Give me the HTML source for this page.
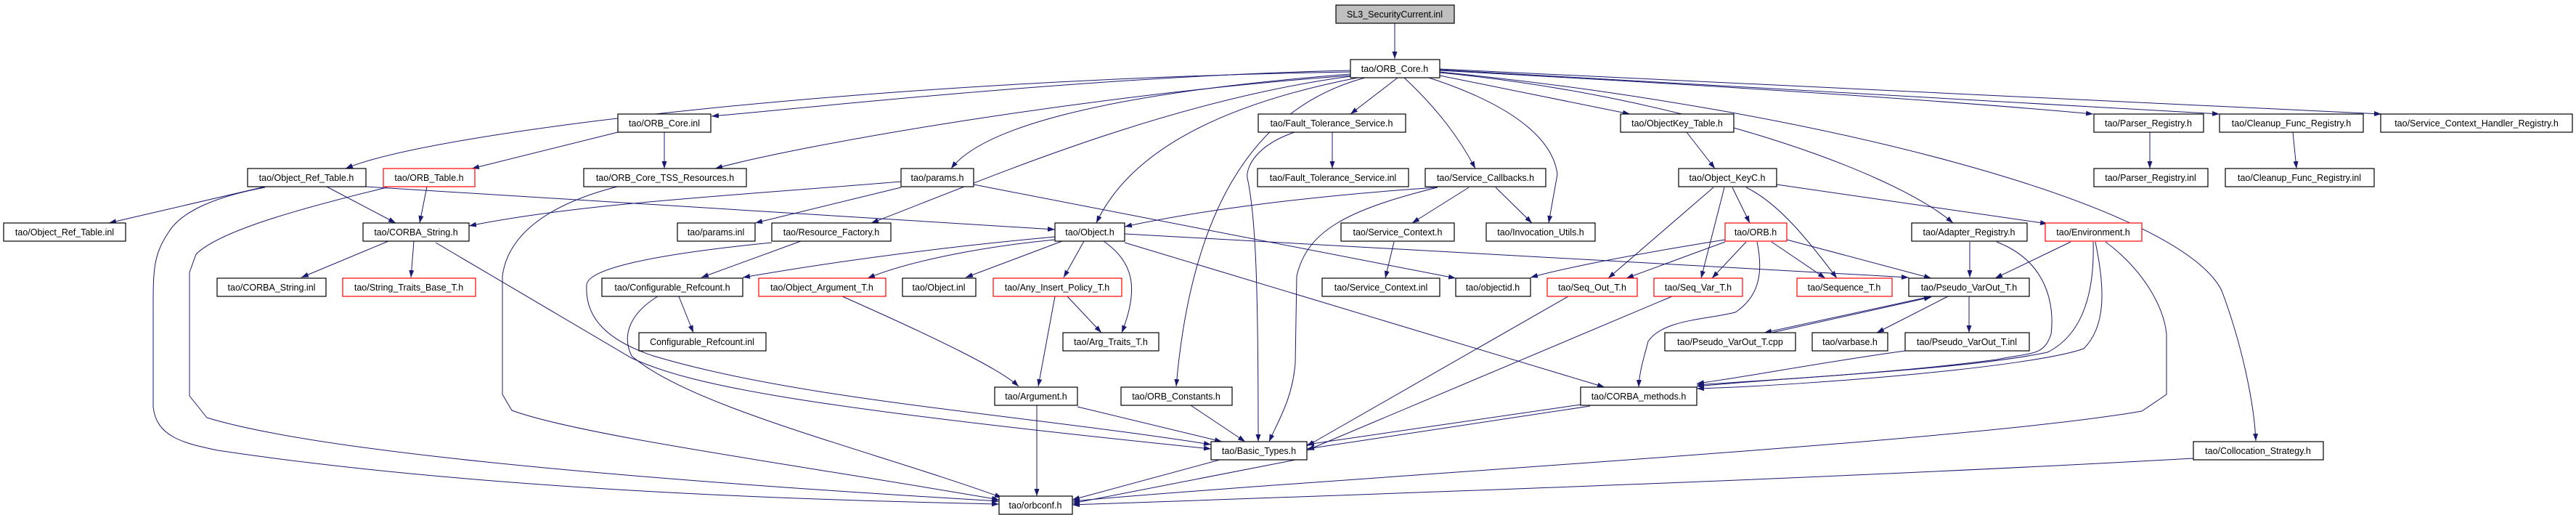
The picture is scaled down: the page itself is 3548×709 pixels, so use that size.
<!DOCTYPE html>
<html><head><meta charset="utf-8"><style>
html,body{margin:0;padding:0;background:#fff;}
svg{display:block;}
text{font-family:"Liberation Sans",sans-serif;font-size:12.5px;fill:#000;}
</style></head><body>
<svg width="3548" height="709" viewBox="0 0 3548 709" xmlns="http://www.w3.org/2000/svg">
<defs><marker id="a" markerUnits="userSpaceOnUse" markerWidth="11" markerHeight="8" refX="10" refY="3.5" orient="auto"><path d="M0,0 L10,3.5 L0,7 z" fill="#191970"/></marker></defs>
<g fill="none" stroke="#191970" stroke-width="1" marker-end="url(#a)">
<path d="M1921,32 L1921,81"/>
<path d="M1860,99 C1200,110 600,180 476,232"/>
<path d="M1860,97 C1500,105 1100,150 980,160"/>
<path d="M1860,104 C1500,130 1100,200 985,232"/>
<path d="M1860,102 C1500,130 1350,180 1310,232"/>
<path d="M1860,105 C1600,140 1350,250 1200,307"/>
<path d="M1870,107 C1700,140 1560,200 1510,307"/>
<path d="M1880,107 C1720,150 1640,300 1620,532"/>
<path d="M1925,107 L1860,157"/>
<path d="M1934,107 C1980,150 2010,190 2032,232"/>
<path d="M1968,107 C2100,150 2140,200 2145,240 L2133,307"/>
<path d="M1983,104 L2245,157"/>
<path d="M1983,100 C2300,130 2600,230 2690,307"/>
<path d="M1983,97 C2400,120 2700,140 2883,157"/>
<path d="M1983,96 L3057,157"/>
<path d="M1983,95 L3280,157"/>
<path d="M1983,99 C2500,150 3000,280 3060,400 C3090,480 3105,560 3107,607"/>
<path d="M851,182 L650,232"/>
<path d="M915,182 L915,232"/>
<path d="M365,257 L150,307"/>
<path d="M450,257 L545,307"/>
<path d="M504,257 L1453,316"/>
<path d="M365,258 C300,270 250,290 232,320 C212,350 211,370 211,420 L211,560 C215,600 250,610 300,620 C700,680 1200,690 1376,694"/>
<path d="M588,257 L578,307"/>
<path d="M533,258 C400,290 300,320 270,350 L261,375 L261,545 L285,575 C400,610 700,650 1376,690"/>
<path d="M535,332 L415,382"/>
<path d="M570,332 L566,382"/>
<path d="M600,334 L870,493 C950,530 1100,560 1668,618"/>
<path d="M850,257 C760,280 700,320 692,380 L692,543 L705,565 C800,600 1100,640 1376,688"/>
<path d="M1241,250 C1000,270 800,280 646,311"/>
<path d="M1241,258 L1040,307"/>
<path d="M1341,254 L2005,383"/>
<path d="M1103,332 L966,382"/>
<path d="M1063,334 C900,350 810,370 808,392 C805,440 840,470 900,490 C1100,550 1400,570 1668,612"/>
<path d="M1453,326 C1300,340 1150,360 1023,382"/>
<path d="M1453,330 C1350,340 1250,360 1195,383"/>
<path d="M1463,332 L1330,382"/>
<path d="M1493,332 L1465,382"/>
<path d="M1520,332 C1560,360 1570,395 1545,458"/>
<path d="M1549,322 L2629,382"/>
<path d="M1549,334 L2210,533"/>
<path d="M1160,408 C1300,470 1380,510 1403,532"/>
<path d="M1453,408 L1430,532"/>
<path d="M1470,408 L1517,458"/>
<path d="M935,408 L955,458"/>
<path d="M906,408 C870,430 855,460 870,490 C950,560 1200,620 1380,685"/>
<path d="M1428,558 L1428,683"/>
<path d="M1484,560 L1683,608"/>
<path d="M1640,558 L1715,608"/>
<path d="M1680,633 L1477,688"/>
<path d="M1800,630 L1477,693"/>
<path d="M1835,182 L1835,232"/>
<path d="M1783,182 C1730,200 1716,230 1718,245 C1730,300 1733,400 1733,608"/>
<path d="M1979,258 C1800,270 1650,290 1549,312"/>
<path d="M1980,258 C1850,290 1800,320 1786,380 L1784,500 C1780,550 1760,580 1748,608"/>
<path d="M2023,258 L1945,307"/>
<path d="M2060,258 L2110,307"/>
<path d="M1920,333 L1908,383"/>
<path d="M2323,182 L2362,232"/>
<path d="M2360,258 L2215,383"/>
<path d="M2375,258 L2343,383"/>
<path d="M2386,258 L2410,307"/>
<path d="M2405,258 C2450,280 2490,330 2530,383"/>
<path d="M2447,254 L2820,308"/>
<path d="M2376,330 C2250,350 2150,370 2108,382"/>
<path d="M2376,333 L2240,383"/>
<path d="M2405,333 L2358,383"/>
<path d="M2440,333 L2514,383"/>
<path d="M2461,330 L2660,383"/>
<path d="M2420,333 C2430,380 2420,410 2390,430 C2350,440 2290,440 2270,470 C2265,490 2258,510 2257,533"/>
<path d="M2160,408 L1800,614"/>
<path d="M2303,408 L1800,620"/>
<path d="M2177,557 L1800,612"/>
<path d="M2190,559 L1800,618"/>
<path d="M2713,333 L2713,382"/>
<path d="M2750,333 C2820,360 2830,420 2825,460 C2815,490 2800,485 2750,495 C2600,515 2400,525 2337,530"/>
<path d="M2852,333 L2748,383"/>
<path d="M2883,333 C2885,400 2870,460 2820,485 C2700,510 2450,520 2337,532"/>
<path d="M2886,333 C2900,400 2900,450 2870,480 C2800,505 2500,530 2337,535"/>
<path d="M2900,333 C2950,370 2980,420 2984,460 L2984,543 L2950,566 C2700,610 1800,660 1477,690"/>
<path d="M2660,408 L2430,458"/>
<path d="M2440,458 L2660,409"/>
<path d="M2683,408 L2585,458"/>
<path d="M2712,408 L2712,458"/>
<path d="M2624,483 C2500,500 2400,520 2337,528"/>
<path d="M3021,631 C2500,660 1900,680 1477,695"/>
<path d="M2961,182 L2961,232"/>
<path d="M3158,182 L3163,232"/>
</g>
<g stroke-width="1.2" fill="#fff">
<rect x="1840" y="7" width="163" height="25" fill="#bfbfbf" stroke="#000"/>
<rect x="1860" y="82" width="123" height="25" stroke="#000"/>
<rect x="851" y="157" width="128" height="25" stroke="#000"/>
<rect x="1733" y="157" width="203" height="25" stroke="#000"/>
<rect x="2232" y="157" width="156" height="25" stroke="#000"/>
<rect x="2884" y="157" width="151" height="25" stroke="#000"/>
<rect x="3057" y="157" width="198" height="25" stroke="#000"/>
<rect x="3279" y="157" width="264" height="25" stroke="#000"/>
<rect x="341" y="232" width="163" height="25" stroke="#000"/>
<rect x="528" y="232" width="126" height="25" stroke="#f00"/>
<rect x="804" y="232" width="224" height="25" stroke="#000"/>
<rect x="1241" y="232" width="100" height="25" stroke="#000"/>
<rect x="1732" y="232" width="208" height="25" stroke="#000"/>
<rect x="1963" y="232" width="166" height="25" stroke="#000"/>
<rect x="2312" y="232" width="135" height="25" stroke="#000"/>
<rect x="2884" y="232" width="157" height="25" stroke="#000"/>
<rect x="3065" y="232" width="205" height="25" stroke="#000"/>
<rect x="5" y="307" width="168" height="25" stroke="#000"/>
<rect x="500" y="307" width="146" height="25" stroke="#000"/>
<rect x="933" y="307" width="107" height="25" stroke="#000"/>
<rect x="1063" y="307" width="164" height="25" stroke="#000"/>
<rect x="1453" y="307" width="96" height="25" stroke="#000"/>
<rect x="1847" y="307" width="156" height="25" stroke="#000"/>
<rect x="2047" y="307" width="150" height="25" stroke="#000"/>
<rect x="2376" y="307" width="85" height="25" stroke="#f00"/>
<rect x="2633" y="307" width="159" height="25" stroke="#000"/>
<rect x="2817" y="307" width="133" height="25" stroke="#f00"/>
<rect x="299" y="383" width="150" height="25" stroke="#000"/>
<rect x="472" y="383" width="183" height="25" stroke="#f00"/>
<rect x="829" y="383" width="194" height="25" stroke="#000"/>
<rect x="1045" y="383" width="175" height="25" stroke="#f00"/>
<rect x="1243" y="383" width="101" height="25" stroke="#000"/>
<rect x="1368" y="383" width="177" height="25" stroke="#f00"/>
<rect x="1821" y="383" width="162" height="25" stroke="#000"/>
<rect x="2005" y="383" width="103" height="25" stroke="#000"/>
<rect x="2131" y="383" width="124" height="25" stroke="#f00"/>
<rect x="2278" y="383" width="122" height="25" stroke="#f00"/>
<rect x="2475" y="383" width="131" height="25" stroke="#f00"/>
<rect x="2629" y="383" width="166" height="25" stroke="#000"/>
<rect x="880" y="458" width="175" height="25" stroke="#000"/>
<rect x="1464" y="458" width="132" height="25" stroke="#000"/>
<rect x="2293" y="458" width="180" height="25" stroke="#000"/>
<rect x="2496" y="458" width="104" height="25" stroke="#000"/>
<rect x="2624" y="458" width="171" height="25" stroke="#000"/>
<rect x="1370" y="533" width="114" height="25" stroke="#000"/>
<rect x="1544" y="533" width="153" height="25" stroke="#000"/>
<rect x="2177" y="533" width="160" height="25" stroke="#000"/>
<rect x="1668" y="608" width="132" height="25" stroke="#000"/>
<rect x="3021" y="608" width="179" height="25" stroke="#000"/>
<rect x="1376" y="683" width="101" height="25" stroke="#000"/>
</g>
<g text-anchor="middle">
<text x="1921" y="24">SL3_SecurityCurrent.inl</text>
<text x="1921" y="99">tao/ORB_Core.h</text>
<text x="915" y="174">tao/ORB_Core.inl</text>
<text x="1834" y="174">tao/Fault_Tolerance_Service.h</text>
<text x="2310" y="174">tao/ObjectKey_Table.h</text>
<text x="2959" y="174">tao/Parser_Registry.h</text>
<text x="3156" y="174">tao/Cleanup_Func_Registry.h</text>
<text x="3411" y="174">tao/Service_Context_Handler_Registry.h</text>
<text x="422" y="249">tao/Object_Ref_Table.h</text>
<text x="591" y="249">tao/ORB_Table.h</text>
<text x="916" y="249">tao/ORB_Core_TSS_Resources.h</text>
<text x="1291" y="249">tao/params.h</text>
<text x="1836" y="249">tao/Fault_Tolerance_Service.inl</text>
<text x="2046" y="249">tao/Service_Callbacks.h</text>
<text x="2379" y="249">tao/Object_KeyC.h</text>
<text x="2962" y="249">tao/Parser_Registry.inl</text>
<text x="3167" y="249">tao/Cleanup_Func_Registry.inl</text>
<text x="89" y="324">tao/Object_Ref_Table.inl</text>
<text x="573" y="324">tao/CORBA_String.h</text>
<text x="986" y="324">tao/params.inl</text>
<text x="1145" y="324">tao/Resource_Factory.h</text>
<text x="1501" y="324">tao/Object.h</text>
<text x="1925" y="324">tao/Service_Context.h</text>
<text x="2122" y="324">tao/Invocation_Utils.h</text>
<text x="2418" y="324">tao/ORB.h</text>
<text x="2712" y="324">tao/Adapter_Registry.h</text>
<text x="2883" y="324">tao/Environment.h</text>
<text x="374" y="400">tao/CORBA_String.inl</text>
<text x="563" y="400">tao/String_Traits_Base_T.h</text>
<text x="926" y="400">tao/Configurable_Refcount.h</text>
<text x="1132" y="400">tao/Object_Argument_T.h</text>
<text x="1293" y="400">tao/Object.inl</text>
<text x="1456" y="400">tao/Any_Insert_Policy_T.h</text>
<text x="1902" y="400">tao/Service_Context.inl</text>
<text x="2056" y="400">tao/objectid.h</text>
<text x="2193" y="400">tao/Seq_Out_T.h</text>
<text x="2339" y="400">tao/Seq_Var_T.h</text>
<text x="2540" y="400">tao/Sequence_T.h</text>
<text x="2712" y="400">tao/Pseudo_VarOut_T.h</text>
<text x="967" y="475">Configurable_Refcount.inl</text>
<text x="1530" y="475">tao/Arg_Traits_T.h</text>
<text x="2383" y="475">tao/Pseudo_VarOut_T.cpp</text>
<text x="2548" y="475">tao/varbase.h</text>
<text x="2709" y="475">tao/Pseudo_VarOut_T.inl</text>
<text x="1427" y="550">tao/Argument.h</text>
<text x="1620" y="550">tao/ORB_Constants.h</text>
<text x="2257" y="550">tao/CORBA_methods.h</text>
<text x="1734" y="625">tao/Basic_Types.h</text>
<text x="3110" y="625">tao/Collocation_Strategy.h</text>
<text x="1426" y="700">tao/orbconf.h</text>
</g>
</svg>
</body></html>
